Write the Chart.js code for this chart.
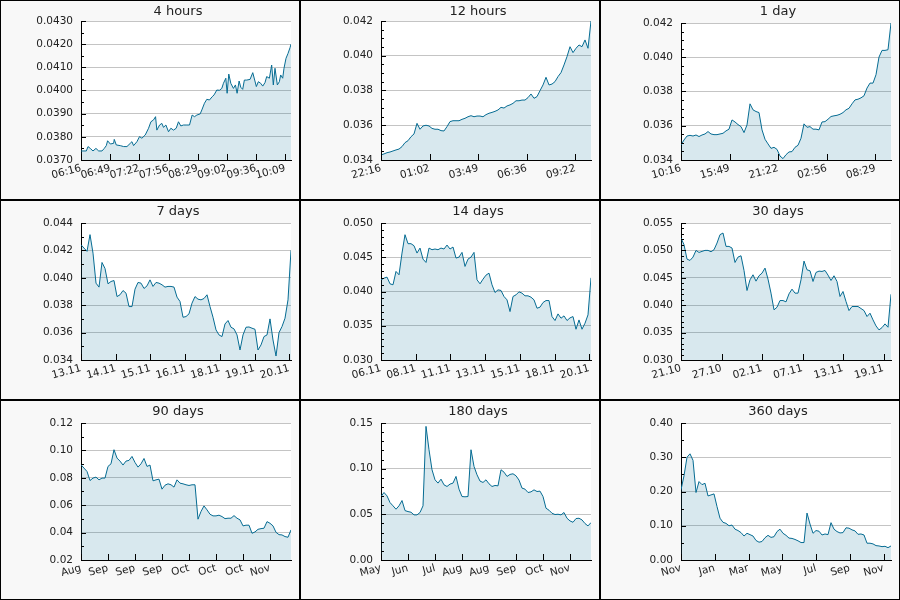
<!DOCTYPE html>
<html>
<head>
<meta charset="utf-8">
<script src="https://cdn.jsdelivr.net/npm/chart.js@4/dist/chart.umd.min.js"></script>
<style>
  body { margin: 0; background: #fff; }
  #grid { display: grid; grid-template-columns: repeat(3, 300px); width: 900px; height: 600px; }
  .cell { width: 300px; height: 200px; box-sizing: border-box; border: 1px solid #000; background: #f8f8f8; }
  .cell canvas { display: block; }
</style>
</head>
<body>
<div id="grid"></div>
<script>
// 4 hours (minutes after 06:16)
var hours4Minutes = [0, 6.1, 8.0, 10.6, 13.7, 17.1, 20.2, 24.0, 26.6, 28.9, 30.4, 33.5, 37.3, 38.0, 40.3, 44.9, 48.7, 52.5, 56.3, 58.2,
    60.1, 63.9, 66.9, 69.6, 73.4, 77.2, 79.9, 82.9, 85.2, 86.7, 89.8, 92.4, 94.3, 97.0, 100.0, 102.7, 105.7, 108.8, 111.4, 114.1,
    117.1, 121.0, 124.0, 127.0, 129.7, 132.4, 136.2, 138.1, 141.1, 143.8, 146.8, 149.9, 152.1, 155.2, 158.2, 160.9, 162.8, 165.5, 167.0, 168.9,
    171.2, 174.2, 176.5, 178.4, 180.7, 182.6, 184.8, 186.7, 189.4, 193.2, 196.3, 198.5, 200.4, 202.7, 205.4, 207.7, 210.3, 212.2, 215.3, 217.9,
    219.8, 221.7, 224.4, 226.7, 228.2, 230.5, 232.0, 234.3, 236.6, 238.9, 240];
var hours4Values = [0.03739, 0.03739, 0.03758, 0.03750, 0.03739, 0.03750, 0.03739, 0.03739, 0.03750, 0.03762, 0.03783, 0.03769, 0.03772, 0.03789, 0.03765, 0.03762, 0.03758, 0.03758, 0.03772, 0.03779,
    0.03762, 0.03779, 0.03801, 0.03794, 0.03808, 0.03837, 0.03865, 0.03873, 0.03887, 0.03829, 0.03851, 0.03858, 0.03841, 0.03851, 0.03822, 0.03837, 0.03829, 0.03837, 0.03865, 0.03847,
    0.03851, 0.03851, 0.03851, 0.03894, 0.03887, 0.03894, 0.03899, 0.03916, 0.03945, 0.03962, 0.03959, 0.03973, 0.03981, 0.04002, 0.04001, 0.04009, 0.04031, 0.04053, 0.03988, 0.04071,
    0.04031, 0.04009, 0.04024, 0.03988, 0.04041, 0.04014, 0.04005, 0.04045, 0.04045, 0.04048, 0.04077, 0.04045, 0.04017, 0.04038, 0.04031, 0.04019, 0.04034, 0.04060, 0.04053, 0.04110,
    0.04024, 0.04096, 0.04024, 0.04038, 0.04067, 0.04053, 0.04096, 0.04139, 0.04160, 0.04185, 0.04200];
var hours4Ticks = ["06:16", "06:49", "07:22", "07:56", "08:29", "09:02", "09:36", "10:09"];

var hours12Values = [0.03429, 0.03435, 0.03442, 0.03446, 0.03452, 0.03458, 0.03463, 0.03477, 0.03500, 0.03511, 0.03534, 0.03550, 0.03611, 0.03577, 0.03596, 0.03600, 0.03596, 0.03582,
    0.03577, 0.03577, 0.03569, 0.03567, 0.03592, 0.03621, 0.03626, 0.03626, 0.03626, 0.03634, 0.03640, 0.03649, 0.03655, 0.03649, 0.03653, 0.03653, 0.03649, 0.03661,
    0.03669, 0.03674, 0.03680, 0.03688, 0.03703, 0.03699, 0.03711, 0.03717, 0.03726, 0.03741, 0.03741, 0.03745, 0.03745, 0.03759, 0.03780, 0.03755, 0.03765, 0.03799,
    0.03832, 0.03876, 0.03832, 0.03837, 0.03851, 0.03880, 0.03903, 0.03947, 0.03995, 0.04052, 0.04018, 0.04043, 0.04062, 0.04052, 0.04091, 0.04043, 0.04200];
var hours12Ticks = ["22:16", "01:02", "03:49", "06:36", "09:22"];

var day1Values = [0.03488, 0.03517, 0.03540, 0.03544, 0.03540, 0.03546, 0.03537, 0.03546, 0.03552, 0.03566, 0.03552, 0.03548, 0.03548, 0.03552, 0.03556, 0.03570, 0.03580, 0.03634,
    0.03622, 0.03607, 0.03595, 0.03560, 0.03605, 0.03728, 0.03693, 0.03683, 0.03677, 0.03576, 0.03521, 0.03494, 0.03468, 0.03474, 0.03462, 0.03423, 0.03408, 0.03431,
    0.03447, 0.03449, 0.03474, 0.03486, 0.03527, 0.03611, 0.03591, 0.03595, 0.03580, 0.03580, 0.03576, 0.03622, 0.03624, 0.03638, 0.03654, 0.03658, 0.03661, 0.03667,
    0.03677, 0.03693, 0.03702, 0.03728, 0.03751, 0.03755, 0.03763, 0.03775, 0.03820, 0.03849, 0.03849, 0.03898, 0.04001, 0.04040, 0.04040, 0.04044, 0.04200];
var day1Ticks = ["10:16", "15:49", "21:22", "02:56", "08:29"];

var days7Values = [0.04241, 0.04217, 0.04193, 0.04315, 0.04180, 0.03961, 0.03932, 0.04112, 0.04068, 0.03956, 0.03973, 0.03980, 0.03863, 0.03876, 0.03907, 0.03888, 0.03790, 0.03790,
    0.03917, 0.03966, 0.03961, 0.03922, 0.03941, 0.03985, 0.03937, 0.03966, 0.03961, 0.03949, 0.03932, 0.03937, 0.03937, 0.03932, 0.03859, 0.03827, 0.03712, 0.03717,
    0.03737, 0.03815, 0.03863, 0.03844, 0.03839, 0.03849, 0.03876, 0.03790, 0.03712, 0.03620, 0.03583, 0.03571, 0.03663, 0.03688, 0.03639, 0.03627, 0.03583, 0.03473,
    0.03583, 0.03639, 0.03641, 0.03632, 0.03624, 0.03473, 0.03510, 0.03571, 0.03583, 0.03700, 0.03546, 0.03429, 0.03600, 0.03644, 0.03705, 0.03839, 0.04200];
var days7Ticks = ["13.11", "14.11", "15.11", "16.11", "18.11", "19.11", "20.11"];

var days14Values = [0.04171, 0.04195, 0.04210, 0.04112, 0.04098, 0.04293, 0.04244, 0.04561, 0.04829, 0.04698, 0.04698, 0.04668, 0.04561, 0.04634, 0.04473, 0.04424, 0.04634, 0.04610,
    0.04620, 0.04610, 0.04634, 0.04620, 0.04678, 0.04620, 0.04649, 0.04488, 0.04502, 0.04571, 0.04366, 0.04473, 0.04502, 0.04571, 0.04171, 0.04112, 0.04180, 0.04239,
    0.04268, 0.04098, 0.03985, 0.04024, 0.04015, 0.03927, 0.03878, 0.03707, 0.03927, 0.03951, 0.03995, 0.03976, 0.03937, 0.03937, 0.03917, 0.03878, 0.03756, 0.03771,
    0.03839, 0.03868, 0.03868, 0.03634, 0.03576, 0.03673, 0.03610, 0.03644, 0.03576, 0.03615, 0.03634, 0.03449, 0.03585, 0.03449, 0.03537, 0.03659, 0.04200];
var days14Ticks = ["06.11", "08.11", "11.11", "13.11", "15.11", "18.11", "20.11"];

var days30Values = [0.05226, 0.05104, 0.04841, 0.04817, 0.04878, 0.05000, 0.04963, 0.04982, 0.05000, 0.05000, 0.04976, 0.05012, 0.05134, 0.05287, 0.05317, 0.05073, 0.05073, 0.05043,
    0.04780, 0.04878, 0.04902, 0.04634, 0.04268, 0.04463, 0.04555, 0.04439, 0.04537, 0.04585, 0.04677, 0.04476, 0.04220, 0.03915, 0.03963, 0.04085, 0.04085, 0.04061,
    0.04207, 0.04293, 0.04220, 0.04220, 0.04463, 0.04805, 0.04646, 0.04628, 0.04433, 0.04598, 0.04622, 0.04616, 0.04634, 0.04549, 0.04451, 0.04537, 0.04433, 0.04159,
    0.04250, 0.04067, 0.03902, 0.03976, 0.03976, 0.03976, 0.03939, 0.03902, 0.03793, 0.03854, 0.03732, 0.03622, 0.03549, 0.03591, 0.03659, 0.03598, 0.04200];
var days30Ticks = ["21.10", "27.10", "02.11", "07.11", "13.11", "19.11"];

var days90Values = [0.0895, 0.0871, 0.0846, 0.0780, 0.0798, 0.0805, 0.0785, 0.0798, 0.0798, 0.0883, 0.0902, 0.1005, 0.0944, 0.0922, 0.0893, 0.0922, 0.0927, 0.0956,
    0.0912, 0.0878, 0.0902, 0.0941, 0.0883, 0.0893, 0.0778, 0.0785, 0.0790, 0.0717, 0.0746, 0.0756, 0.0749, 0.0732, 0.0785, 0.0761, 0.0756, 0.0749,
    0.0744, 0.0749, 0.0749, 0.0498, 0.0554, 0.0595, 0.0566, 0.0534, 0.0522, 0.0522, 0.0527, 0.0517, 0.0502, 0.0505, 0.0505, 0.0524, 0.0505, 0.0493,
    0.0449, 0.0454, 0.0454, 0.0395, 0.0405, 0.0424, 0.0429, 0.0432, 0.0480, 0.0468, 0.0449, 0.0402, 0.0385, 0.0383, 0.0371, 0.0366, 0.0420];
var days90Ticks = ["Aug", "Sep", "Sep", "Sep", "Oct", "Oct", "Oct", "Nov"];

var days180Values = [0.0695, 0.0739, 0.0702, 0.0629, 0.0593, 0.0556, 0.0593, 0.0651, 0.0541, 0.0530, 0.0523, 0.0494, 0.0494, 0.0520, 0.0593, 0.1463, 0.1207, 0.0988,
    0.0878, 0.0842, 0.0885, 0.0823, 0.0805, 0.0831, 0.0842, 0.0915, 0.0776, 0.0695, 0.0692, 0.0695, 0.1207, 0.1025, 0.0933, 0.0864, 0.0849, 0.0878,
    0.0834, 0.0805, 0.0816, 0.0812, 0.0988, 0.0962, 0.0915, 0.0937, 0.0944, 0.0922, 0.0875, 0.0787, 0.0776, 0.0739, 0.0746, 0.0768, 0.0750, 0.0754,
    0.0695, 0.0567, 0.0545, 0.0512, 0.0498, 0.0501, 0.0494, 0.0520, 0.0457, 0.0428, 0.0413, 0.0454, 0.0457, 0.0439, 0.0399, 0.0373, 0.0410];
var days180Ticks = ["May", "Jun", "Jul", "Aug", "Aug", "Sep", "Oct", "Nov"];

var days360Values = [0.205, 0.246, 0.300, 0.310, 0.291, 0.197, 0.229, 0.220, 0.224, 0.187, 0.190, 0.193, 0.156, 0.122, 0.110, 0.107, 0.100, 0.102,
    0.090, 0.086, 0.080, 0.070, 0.078, 0.074, 0.070, 0.057, 0.052, 0.054, 0.065, 0.072, 0.066, 0.068, 0.083, 0.090, 0.078, 0.072,
    0.064, 0.063, 0.060, 0.056, 0.051, 0.051, 0.137, 0.105, 0.078, 0.086, 0.084, 0.073, 0.076, 0.074, 0.109, 0.090, 0.083, 0.079,
    0.080, 0.094, 0.093, 0.088, 0.085, 0.075, 0.076, 0.073, 0.049, 0.049, 0.047, 0.042, 0.041, 0.039, 0.040, 0.036, 0.041];
var days360Ticks = ["Nov", "Jan", "Mar", "May", "Jul", "Sep", "Nov"];

// span and tick step in seconds; y range, major step, minor subdivisions, decimals
var panels = [
    { title: "4 hours", values: hours4Values, times: hours4Minutes.map(function (m) { return m * 60; }), span: 14400, step: 2000, ticks: hours4Ticks, yMin: 0.037, yMax: 0.043, yStep: 0.001, minor: 2, dec: 4, top: 20 },
    { title: "12 hours", values: hours12Values, span: 43200, step: 10000, ticks: hours12Ticks, yMin: 0.034, yMax: 0.042, yStep: 0.002, minor: 4, dec: 3, top: 20 },
    { title: "1 day", values: day1Values, span: 86400, step: 20000, ticks: day1Ticks, yMin: 0.034, yMax: 0.042, yStep: 0.002, minor: 4, dec: 3, top: 22 },
    { title: "7 days", values: days7Values, span: 604800, step: 100000, ticks: days7Ticks, yMin: 0.034, yMax: 0.044, yStep: 0.002, minor: 2, dec: 3, top: 22 },
    { title: "14 days", values: days14Values, span: 1209600, step: 200000, ticks: days14Ticks, yMin: 0.030, yMax: 0.050, yStep: 0.005, minor: 5, dec: 3, top: 22 },
    { title: "30 days", values: days30Values, span: 2592000, step: 500000, ticks: days30Ticks, yMin: 0.030, yMax: 0.055, yStep: 0.005, minor: 5, dec: 3, top: 22 },
    { title: "90 days", values: days90Values, span: 7776000, step: 1000000, ticks: days90Ticks, yMin: 0.02, yMax: 0.12, yStep: 0.02, minor: 2, dec: 2, top: 22 },
    { title: "180 days", values: days180Values, span: 15552000, step: 2000000, ticks: days180Ticks, yMin: 0, yMax: 0.15, yStep: 0.05, minor: 5, dec: 2, top: 22 },
    { title: "360 days", values: days360Values, span: 31104000, step: 5000000, ticks: days360Ticks, yMin: 0, yMax: 0.40, yStep: 0.10, minor: 2, dec: 2, top: 22 }
];

Chart.defaults.font.family = "'DejaVu Sans', sans-serif";
Chart.defaults.color = "#222";

// white plot area, title, inward tick marks
function axisDecor(p) {
    return {
        id: 'axisDecor',
        beforeDraw: function (chart) {
            var a = chart.chartArea, ctx = chart.ctx;
            ctx.save();
            ctx.fillStyle = '#fff';
            ctx.fillRect(a.left, a.top, a.right - a.left, a.bottom - a.top);
            ctx.restore();
        },
        afterDraw: function (chart) {
            var a = chart.chartArea, ctx = chart.ctx;
            var ys = chart.scales.y, xs = chart.scales.x;
            ctx.save();
            ctx.fillStyle = '#222';
            ctx.font = "13px 'DejaVu Sans'";
            ctx.textAlign = 'center';
            ctx.textBaseline = 'alphabetic';
            ctx.fillText(p.title, 177, 14);

            ctx.strokeStyle = '#000';
            ctx.lineWidth = 1;
            ctx.beginPath();
            var n = Math.round((p.yMax - p.yMin) / p.yStep * p.minor);
            for (var i = 0; i <= n; i++) {
                var py = Math.round(ys.getPixelForValue(p.yMin + i * p.yStep / p.minor)) + 0.5;
                var len = (i % p.minor === 0) ? 5 : 3;
                ctx.moveTo(a.left, py);
                ctx.lineTo(a.left + len, py);
            }
            xs.ticks.forEach(function (t) {
                var px = Math.round(xs.getPixelForValue(t.value)) + 0.5;
                ctx.moveTo(px, a.bottom);
                ctx.lineTo(px, a.bottom - 6);
            });
            ctx.stroke();
            ctx.restore();
        }
    };
}

var grid = document.getElementById('grid');
panels.forEach(function (p) {
    var cell = document.createElement('div');
    cell.className = 'cell';
    var canvas = document.createElement('canvas');
    canvas.width = 298;
    canvas.height = 198;
    cell.appendChild(canvas);
    grid.appendChild(cell);

    var n = p.values.length;
    var points = p.values.map(function (v, i) {
        return { x: p.times ? p.times[i] : i * p.span / (n - 1), y: v };
    });

    new Chart(canvas.getContext('2d'), {
        type: 'line',
        data: {
            datasets: [{
                data: points,
                borderColor: '#066c93',
                backgroundColor: 'rgba(10, 111, 150, 0.16)',
                borderWidth: 1,
                pointRadius: 0,
                tension: 0,
                fill: 'start'
            }]
        },
        options: {
            responsive: false,
            animation: false,
            devicePixelRatio: 1,
            layout: { padding: { left: 0, right: 8, top: p.top, bottom: 0 } },
            plugins: {
                legend: { display: false },
                tooltip: { enabled: false },
                title: { display: false }
            },
            scales: {
                x: {
                    type: 'linear',
                    min: 0,
                    max: p.span,
                    grid: { display: false, drawTicks: false },
                    border: { display: true, color: '#000', width: 1 },
                    afterBuildTicks: function (scale) {
                        scale.ticks = p.ticks.map(function (l, i) { return { value: i * p.step }; });
                    },
                    afterFit: function (scale) { scale.height = 39; },
                    ticks: {
                        autoSkip: false,
                        minRotation: 15,
                        maxRotation: 15,
                        padding: 2,
                        font: { size: 10.5 },
                        callback: function (value, index) { return p.ticks[index]; }
                    }
                },
                y: {
                    min: p.yMin,
                    max: p.yMax,
                    grid: { color: '#c4c4c4', drawTicks: false },
                    border: { display: true, color: '#000', width: 1 },
                    afterFit: function (scale) { scale.width = 80; },
                    ticks: {
                        stepSize: p.yStep,
                        padding: 8,
                        font: { size: 10.5 },
                        callback: function (value) { return value.toFixed(p.dec); }
                    }
                }
            }
        },
        plugins: [axisDecor(p)]
    });
});
</script>
</body>
</html>
